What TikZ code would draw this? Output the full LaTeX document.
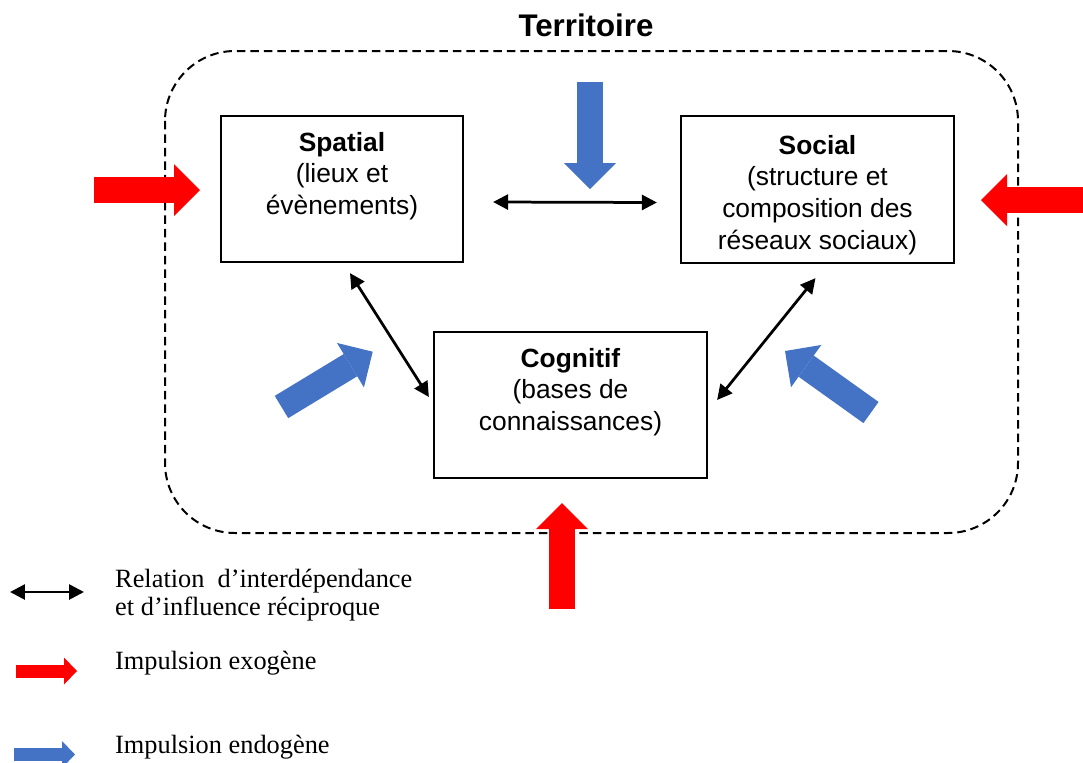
\documentclass[tikz,border=0pt]{standalone}
\usepackage{fontspec}
\setmainfont{Liberation Serif}
\newfontfamily\helv{Liberation Sans}
\usepackage{xcolor}
\usepackage{tikz}
\usetikzlibrary{arrows.meta,positioning}

\definecolor{exored}{RGB}{255,0,0}
\definecolor{endoblue}{RGB}{68,114,196}

\begin{document}
\begin{tikzpicture}[x=0.02cm, y=-0.02cm,
      box/.style={draw, line width=0.045cm, minimum height=2.92cm, align=center,
        inner sep=0pt, font=\helv\fontsize{15pt}{18pt}\selectfont},
      rel/.style={line width=0.055cm, {Triangle[length=0.3cm,width=0.3cm]}-{Triangle[length=0.3cm,width=0.3cm]}},
      exo/.style={exored, line width=0.52cm,
        -{Triangle[length=0.52cm,width=1.04cm,line width=0pt]}},
      endo/.style={exo, endoblue},
      >=Stealth]
    \useasboundingbox (0,0) rectangle (1083,762);
    \clip (0,0) rectangle (1083,762);

    % territoire
    \node[font=\helv\bfseries\fontsize{17.8pt}{20pt}\selectfont] (titre) at (586,25) {Territoire};
    \draw[line width=0.04cm, dash pattern=on 0.17cm off 0.1cm, rounded corners=1.4cm]
      (165,51) rectangle (1018,533);

    % les trois dimensions
    \node[box, minimum width=4.84cm] (spatial) at (342,189)
      {\textbf{Spatial}\\(lieux et\\évènements)\\\mbox{}};
    \node[box, minimum width=5.46cm, minimum height=2.94cm] (social) at (817.5,189.5)
      {\rule{0pt}{17pt}\textbf{Social}\\(structure et\\composition des\\réseaux sociaux)};
    \node[box, minimum width=5.46cm] (cognitif) at (570.5,405)
      {\textbf{Cognitif}\\(bases de\\connaissances)\\\mbox{}};

    \draw[rel] ([shift={(29,13)}]spatial.east) -- ([shift={(-23,13)}]social.west);
    \draw[rel] ([shift={(8,10)}]spatial.south) -- ([shift={(-4,-8)}]cognitif.west);
    \draw[rel] ([shift={(-2,14)}]social.south) -- ([shift={(9,-5)}]cognitif.east);

    % impulsions
    \draw[exo] (94,190) -- (200,190);
    \draw[exo] (1090,200) -- (981,200);
    \draw[exo] (562,609) -- (562,503);
    \draw[endo] (590,82) -- (590,189);
    \draw[endo] (281.5,407) -- (372.7,351.7);
    \draw[endo] (871,412.5) -- (785,351);

    % legende
    \draw[rel] (10,592) -- (84,592);
    \node[anchor=west, align=left, font=\fontsize{15pt}{16pt}\selectfont] (legRel) at (109,595)
      {Relation\ \ d’interdépendance\\et d’influence réciproque};
    \draw[exored, line width=0.26cm,
      -{Triangle[length=0.26cm,width=0.54cm,line width=0pt]}] (16,671) -- (77,671);
    \node[anchor=west, font=\fontsize{15pt}{16pt}\selectfont] (legExo) at (109,663)
      {Impulsion exogène};
    \draw[endoblue, line width=0.26cm,
      -{Triangle[length=0.26cm,width=0.54cm,line width=0pt]}] (14,754.5) -- (75,754.5);
    \node[anchor=west, font=\fontsize{15pt}{16pt}\selectfont] (legEndo) at (109,747)
      {Impulsion endogène};
  \end{tikzpicture}
\end{document}
